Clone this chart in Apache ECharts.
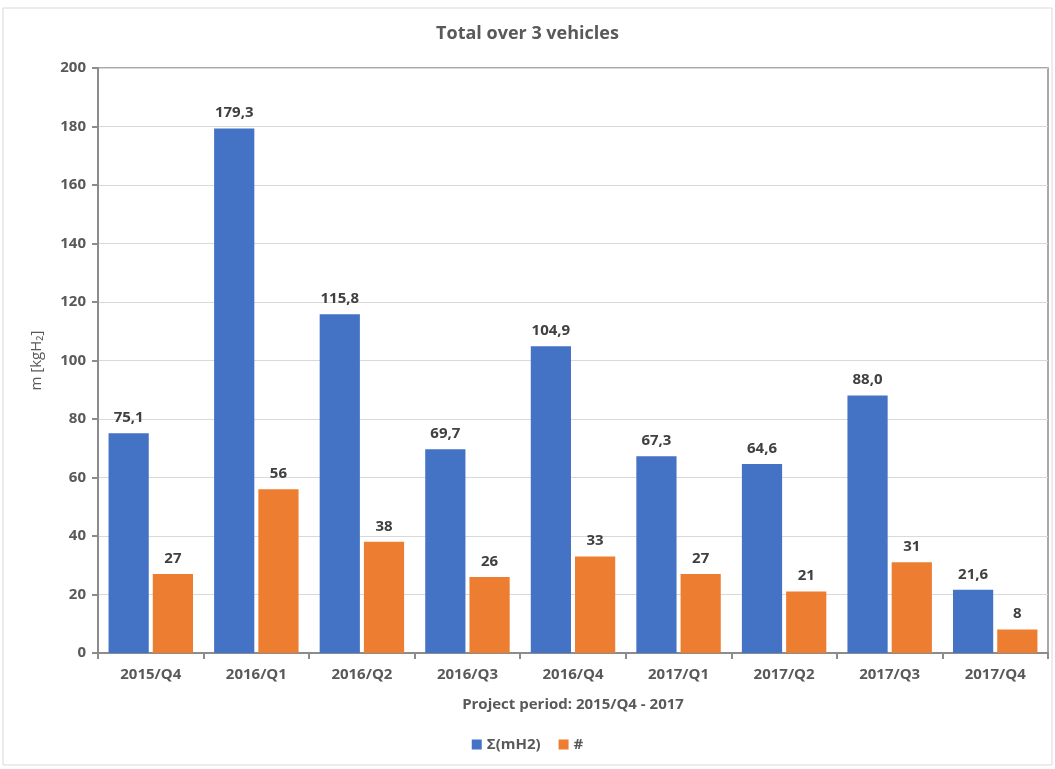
<!DOCTYPE html>
<html><head><meta charset="utf-8">
<script src="https://cdn.jsdelivr.net/npm/echarts@6/dist/echarts.min.js"></script>
<style>html,body{margin:0;padding:0;background:#fff}#c{width:1055px;height:769px}</style>
</head><body><div id="c"></div>
<script>
const categories = ['2015/Q4','2016/Q1','2016/Q2','2016/Q3','2016/Q4','2017/Q1','2017/Q2','2017/Q3','2017/Q4'];
const massH2 = [75.1,179.3,115.8,69.7,104.9,67.3,64.6,88.0,21.6];
const counts = [27,56,38,26,33,27,21,31,8];
const yTicks = {min:0,max:200,interval:20};
const font = '"Open Sans", sans-serif';
const chart = echarts.init(document.getElementById('c'));
chart.setOption({
  animation:false,
  textStyle:{fontFamily:font},
  graphic:[{type:'rect',shape:{x:3,y:8,width:1049,height:757},style:{fill:'none',stroke:'#d9d9d9',lineWidth:1}}],
  title:{text:'Total over 3 vehicles',left:'center',top:20,textStyle:{fontFamily:font,fontSize:18,fontWeight:'bold',color:'#595959'}},
  grid:{left:98,right:7,top:68,bottom:116,show:true,borderColor:'#8c8c8c',borderWidth:1.5,containLabel:false},
  legend:{bottom:12,left:'center',itemWidth:10,itemHeight:10,itemGap:18,icon:'rect',textStyle:{fontFamily:font,fontSize:15,fontWeight:'bold',color:'#595959'},data:['Σ(mH2)','#']},
  xAxis:{type:'category',data:categories,name:'Project period: 2015/Q4 - 2017',nameLocation:'middle',nameGap:44,
    nameTextStyle:{fontFamily:font,fontSize:15,fontWeight:'bold',color:'#595959'},
    axisLine:{lineStyle:{color:'#8c8c8c',width:2}},axisTick:{show:true,length:6,lineStyle:{color:'#8c8c8c',width:2}},
    axisLabel:{fontFamily:font,fontSize:15,fontWeight:'bold',color:'#595959',margin:14}},
  yAxis:{type:'value',min:yTicks.min,max:yTicks.max,interval:yTicks.interval,name:'m [kgH₂]',nameLocation:'middle',nameGap:54,nameRotate:90,
    nameTextStyle:{fontFamily:font,fontSize:15,color:'#595959'},
    axisLine:{show:true,lineStyle:{color:'#8c8c8c',width:2}},axisTick:{show:true,length:6,lineStyle:{color:'#8c8c8c',width:2}},
    axisLabel:{fontFamily:font,fontSize:15,fontWeight:'bold',color:'#595959',margin:12},
    splitLine:{lineStyle:{color:'#d9d9d9',width:1}}},
  series:[
    {name:'Σ(mH2)',type:'bar',data:massH2,barGap:'10%',barCategoryGap:'20%',itemStyle:{color:'#4472c4'},
     label:{show:true,position:'top',distance:8,fontFamily:font,fontSize:15,fontWeight:'bold',color:'#404040',formatter:p=>p.value.toFixed(1).replace('.',',')}},
    {name:'#',type:'bar',data:counts,itemStyle:{color:'#ed7d31'},
     label:{show:true,position:'top',distance:8,fontFamily:font,fontSize:15,fontWeight:'bold',color:'#404040'}}
  ]
});
</script></body></html>
